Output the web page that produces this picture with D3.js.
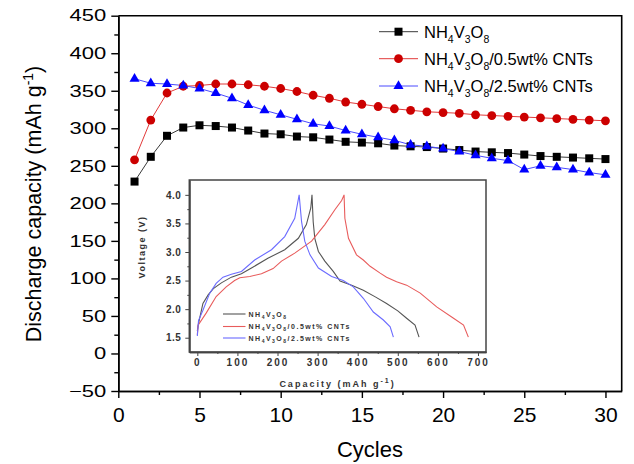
<!DOCTYPE html>
<html>
<head>
<meta charset="utf-8">
<script src="https://cdn.jsdelivr.net/npm/d3@7"></script>
<style>
  body { margin: 0; background: #fff; }
  svg text { font-family: Arial, "Liberation Sans", sans-serif; }
</style>
</head>
<body>
<div id="okvir"></div>
<script>
// cycle numbers and discharge capacity (mAh g-1)
const cycles = [1,2,3,4,5,6,7,8,9,10,11,12,13,14,15,16,17,18,19,20,21,22,23,24,25,26,27,28,29,30];
const pureCap = [229,262,290,301,304,303,301,297,293,292,289,288,285,282,281,280,277,276,275,273,271,269,268,267,265,263,262,261,260,259];
const cnt05Cap = [258,311,347,356,357,359,359,358,356,353,349,344,340,335,332,329,326,324,322,321,320,318,317,316,315,314,313,312,311,310];
const cnt25Cap = [366,360,359,357,353,347,340,331,324,318,312,306,303,297,292,288,284,278,276,273,269,264,260,257,245,250,248,245,241,238];

const seriesLabels = ["", "/0.5wt% CNTs", "/2.5wt% CNTs"];
const xTicks = [0,5,10,15,20,25,30];
const yTicks = [-50,0,50,100,150,200,250,300,350,400,450];

// inset: charge/discharge curves [capacity, voltage]
const curvePure = [[0,1.62],[3,1.75],[14,2.1],[27,2.25],[40,2.36],[60,2.46],[85,2.56],[110,2.62],[135,2.72],[176,2.89],[218,3.04],[252,3.24],[272,3.48],[283,3.77],[286,4.0],[289,3.53],[293,3.24],[302,3.01],[318,2.84],[339,2.66],[356,2.49],[385,2.42],[414,2.33],[445,2.21],[472,2.10],[500,1.97],[522,1.84],[543,1.72],[553,1.51]];
const curve05 = [[0,1.55],[2,1.72],[22,1.93],[47,2.22],[72,2.39],[93,2.5],[106,2.55],[131,2.57],[160,2.62],[189,2.71],[210,2.84],[243,2.98],[285,3.19],[318,3.48],[343,3.74],[360,3.9],[366,4.0],[368,3.59],[377,3.24],[397,2.95],[414,2.86],[431,2.75],[456,2.63],[472,2.56],[497,2.48],[522,2.42],[556,2.28],[597,2.04],[639,1.84],[664,1.72],[676,1.51]];
const curve25 = [[0,1.53],[3,1.8],[14,1.98],[31,2.28],[47,2.45],[64,2.56],[85,2.61],[110,2.66],[143,2.86],[185,3.04],[218,3.27],[243,3.59],[254,4.0],[260,3.53],[268,3.19],[281,2.95],[302,2.72],[335,2.57],[364,2.5],[389,2.39],[414,2.19],[439,1.95],[464,1.81],[481,1.69],[489,1.51]];
const insetXTicks = [0,100,200,300,400,500,600,700];
const insetYTicks = [1.5,2.0,2.5,3.0,3.5,4.0];

const dim = {
  sirina: 634,
  visina: 464,
  margine: { top: 15.7, right: 12.3, bottom: 73, left: 118.3 },
};
dim.grSirina = dim.sirina - dim.margine.left - dim.margine.right;
dim.grVisina = dim.visina - dim.margine.top - dim.margine.bottom;

const okvir = d3.select("#okvir").append("svg")
  .attr("width", dim.sirina)
  .attr("height", dim.visina);

const x = d3.scaleLinear().domain([0, 31]).range([0, dim.grSirina]);
const y = d3.scaleLinear().domain([-50, 450]).range([dim.grVisina, 0]);

const g = okvir.append("g")
  .attr("transform", `translate(${dim.margine.left},${dim.margine.top})`);

// axes
const xAxis = g.append("g").attr("transform", `translate(0,${dim.grVisina})`)
  .call(d3.axisBottom(x).tickValues(xTicks).tickSize(7).tickPadding(9).tickSizeOuter(0));
g.append("g").attr("transform", `translate(0,${dim.grVisina})`)
  .call(d3.axisBottom(x).tickValues([2.5,7.5,12.5,17.5,22.5,27.5]).tickSize(4).tickFormat("").tickSizeOuter(0));
const yAxis = g.append("g")
  .call(d3.axisLeft(y).tickValues(yTicks).tickSize(7).tickPadding(5).tickSizeOuter(0));
g.append("g")
  .call(d3.axisLeft(y).tickValues([-25,25,75,125,175,225,275,325,375,425]).tickSize(4).tickFormat("").tickSizeOuter(0));

g.selectAll(".domain").attr("stroke", "#000").attr("stroke-width", 1.6);
g.selectAll(".tick line").attr("stroke", "#000").attr("stroke-width", 1.4);
xAxis.selectAll("text").attr("font-size", 21).attr("fill", "#000");
yAxis.selectAll("text").attr("font-size", 22).attr("fill", "#000")
  .attr("transform", "scale(1,0.75)");

// frame top/right
g.append("path")
  .attr("d", `M0,0H${dim.grSirina}V${dim.grVisina}`)
  .attr("fill", "none").attr("stroke", "#000").attr("stroke-width", 1.6);

// axis titles
okvir.append("text")
  .attr("x", dim.margine.left + dim.grSirina / 2).attr("y", 456.5)
  .attr("text-anchor", "middle").attr("font-size", 22).text("Cycles");
const yt = okvir.append("text")
  .attr("transform", "translate(41,204) rotate(-90)")
  .attr("text-anchor", "middle").attr("font-size", 21.5);
yt.append("tspan").text("Discharge capacity (mAh g");
yt.append("tspan").attr("dy", -8).attr("font-size", 14).text("-1");
yt.append("tspan").attr("dy", 8).text(")");

// series
const serije = [
  { vals: pureCap, line: "#3a3a3a", fill: "#000", shape: "square" },
  { vals: cnt05Cap, line: "#e23a3a", fill: "#cc0000", shape: "circle" },
  { vals: cnt25Cap, line: "#4a4aff", fill: "#0000ff", shape: "triangle" },
];

function marker(sel, shape, fill) {
  if (shape === "square") {
    sel.append("rect").attr("x", -4).attr("y", -4).attr("width", 8).attr("height", 8).attr("fill", fill);
  } else if (shape === "circle") {
    sel.append("circle").attr("r", 4.4).attr("fill", fill);
  } else {
    sel.append("path").attr("d", d3.symbol(d3.symbolTriangle, 44)()).attr("fill", fill);
  }
}

const lineGen = d3.line().x((d, i) => x(cycles[i])).y(d => y(d));

serije.forEach(s => {
  g.append("path").datum(s.vals)
    .attr("d", lineGen).attr("fill", "none")
    .attr("stroke", s.line).attr("stroke-width", 1);
});
serije.forEach(s => {
  g.selectAll(null).data(s.vals).enter().append("g")
    .attr("transform", (d, i) => `translate(${x(cycles[i])},${y(d)})`)
    .each(function() { marker(d3.select(this), s.shape, s.fill); });
});

// NH4V3O8 with subscripts, then the suffix
function formula(txt, sub, subDy, suffix) {
  let down = false;
  [["NH", "4"], ["V", "3"], ["O", "8"]].forEach(p => {
    txt.append("tspan").attr("dy", down ? -subDy : 0).text(p[0]);
    txt.append("tspan").attr("dy", subDy).attr("font-size", sub).text(p[1]);
    down = true;
  });
  if (suffix) txt.append("tspan").attr("dy", -subDy).text(suffix);
}

const legendY = [31.7, 58.7, 86];
serije.forEach((s, i) => {
  const lg = okvir.append("g").attr("transform", `translate(379,${legendY[i]})`);
  lg.append("line").attr("x1", 0).attr("x2", 39).attr("stroke", s.line).attr("stroke-width", 1);
  const m = lg.append("g").attr("transform", "translate(19.5,0)");
  marker(m, s.shape, s.fill);
  const t = lg.append("text").attr("x", 45).attr("y", 6).attr("font-size", 16.5).attr("fill", "#000");
  formula(t, 10.5, 5, seriesLabels[i]);
});

// inset
const ix = d3.scaleLinear().domain([-20, 720]).range([189.3, 486]);
const iy = d3.scaleLinear().domain([1.25, 4.26]).range([352, 180]);
const ins = okvir.append("g");
ins.append("rect").attr("x", 189.3).attr("y", 180).attr("width", 486 - 189.3).attr("height", 172)
  .attr("fill", "#fff").attr("stroke", "#444").attr("stroke-width", 1.5);

const ixAxis = ins.append("g").attr("transform", "translate(0,352)")
  .call(d3.axisBottom(ix).tickValues(insetXTicks).tickSize(4).tickPadding(3).tickSizeOuter(0));
ins.append("g").attr("transform", "translate(0,352)")
  .call(d3.axisBottom(ix).tickValues([50,150,250,350,450,550,650]).tickSize(2).tickFormat("").tickSizeOuter(0));
const iyAxis = ins.append("g").attr("transform", "translate(189.3,0)")
  .call(d3.axisLeft(iy).tickValues(insetYTicks).tickSize(4).tickPadding(4).tickFormat(d3.format(".1f")).tickSizeOuter(0));
ins.append("g").attr("transform", "translate(189.3,0)")
  .call(d3.axisLeft(iy).tickValues([1.75,2.25,2.75,3.25,3.75]).tickSize(2).tickFormat("").tickSizeOuter(0));
ins.selectAll(".domain").attr("stroke", "#444").attr("stroke-width", 1.5);
ins.selectAll(".tick line").attr("stroke", "#444");
ixAxis.selectAll("text").attr("font-size", 10).attr("font-weight", "bold")
  .attr("letter-spacing", 2).attr("fill", "#333");
iyAxis.selectAll("text").attr("font-size", 10).attr("font-weight", "bold")
  .attr("letter-spacing", 0.5).attr("fill", "#333");

const insetSeries = [
  { data: curvePure, color: "#555" },
  { data: curve05, color: "#e85c5c" },
  { data: curve25, color: "#6b6bff" },
];
const iLine = d3.line().x(d => ix(d[0])).y(d => iy(d[1]));
insetSeries.forEach(s => {
  ins.append("path").datum(s.data).attr("d", iLine)
    .attr("fill", "none").attr("stroke", s.color).attr("stroke-width", 1.1);
});

const iLegY = [314, 326.5, 338];
insetSeries.forEach((s, i) => {
  ins.append("line").attr("x1", 223).attr("x2", 245.5)
    .attr("y1", iLegY[i]).attr("y2", iLegY[i])
    .attr("stroke", s.color).attr("stroke-width", 1.1);
  const t = ins.append("text").attr("x", 248.5).attr("y", iLegY[i] + 2.5)
    .attr("font-size", 7).attr("font-weight", "bold").attr("letter-spacing", 1.5).attr("fill", "#333");
  formula(t, 5, 2, seriesLabels[i]);
});

ins.append("text").attr("transform", "translate(145,247) rotate(-90)")
  .attr("text-anchor", "middle").attr("font-size", 9).attr("font-weight", "bold")
  .attr("letter-spacing", 1.5).attr("fill", "#333").text("Voltage (V)");
const ct = ins.append("text").attr("x", 337.5).attr("y", 386.7)
  .attr("text-anchor", "middle").attr("font-size", 9).attr("font-weight", "bold")
  .attr("letter-spacing", 2).attr("fill", "#333");
ct.append("tspan").text("Capacity (mAh g");
ct.append("tspan").attr("dy", -4).attr("font-size", 7).text("-1");
ct.append("tspan").attr("dy", 4).text(")");
</script>
</body>
</html>
